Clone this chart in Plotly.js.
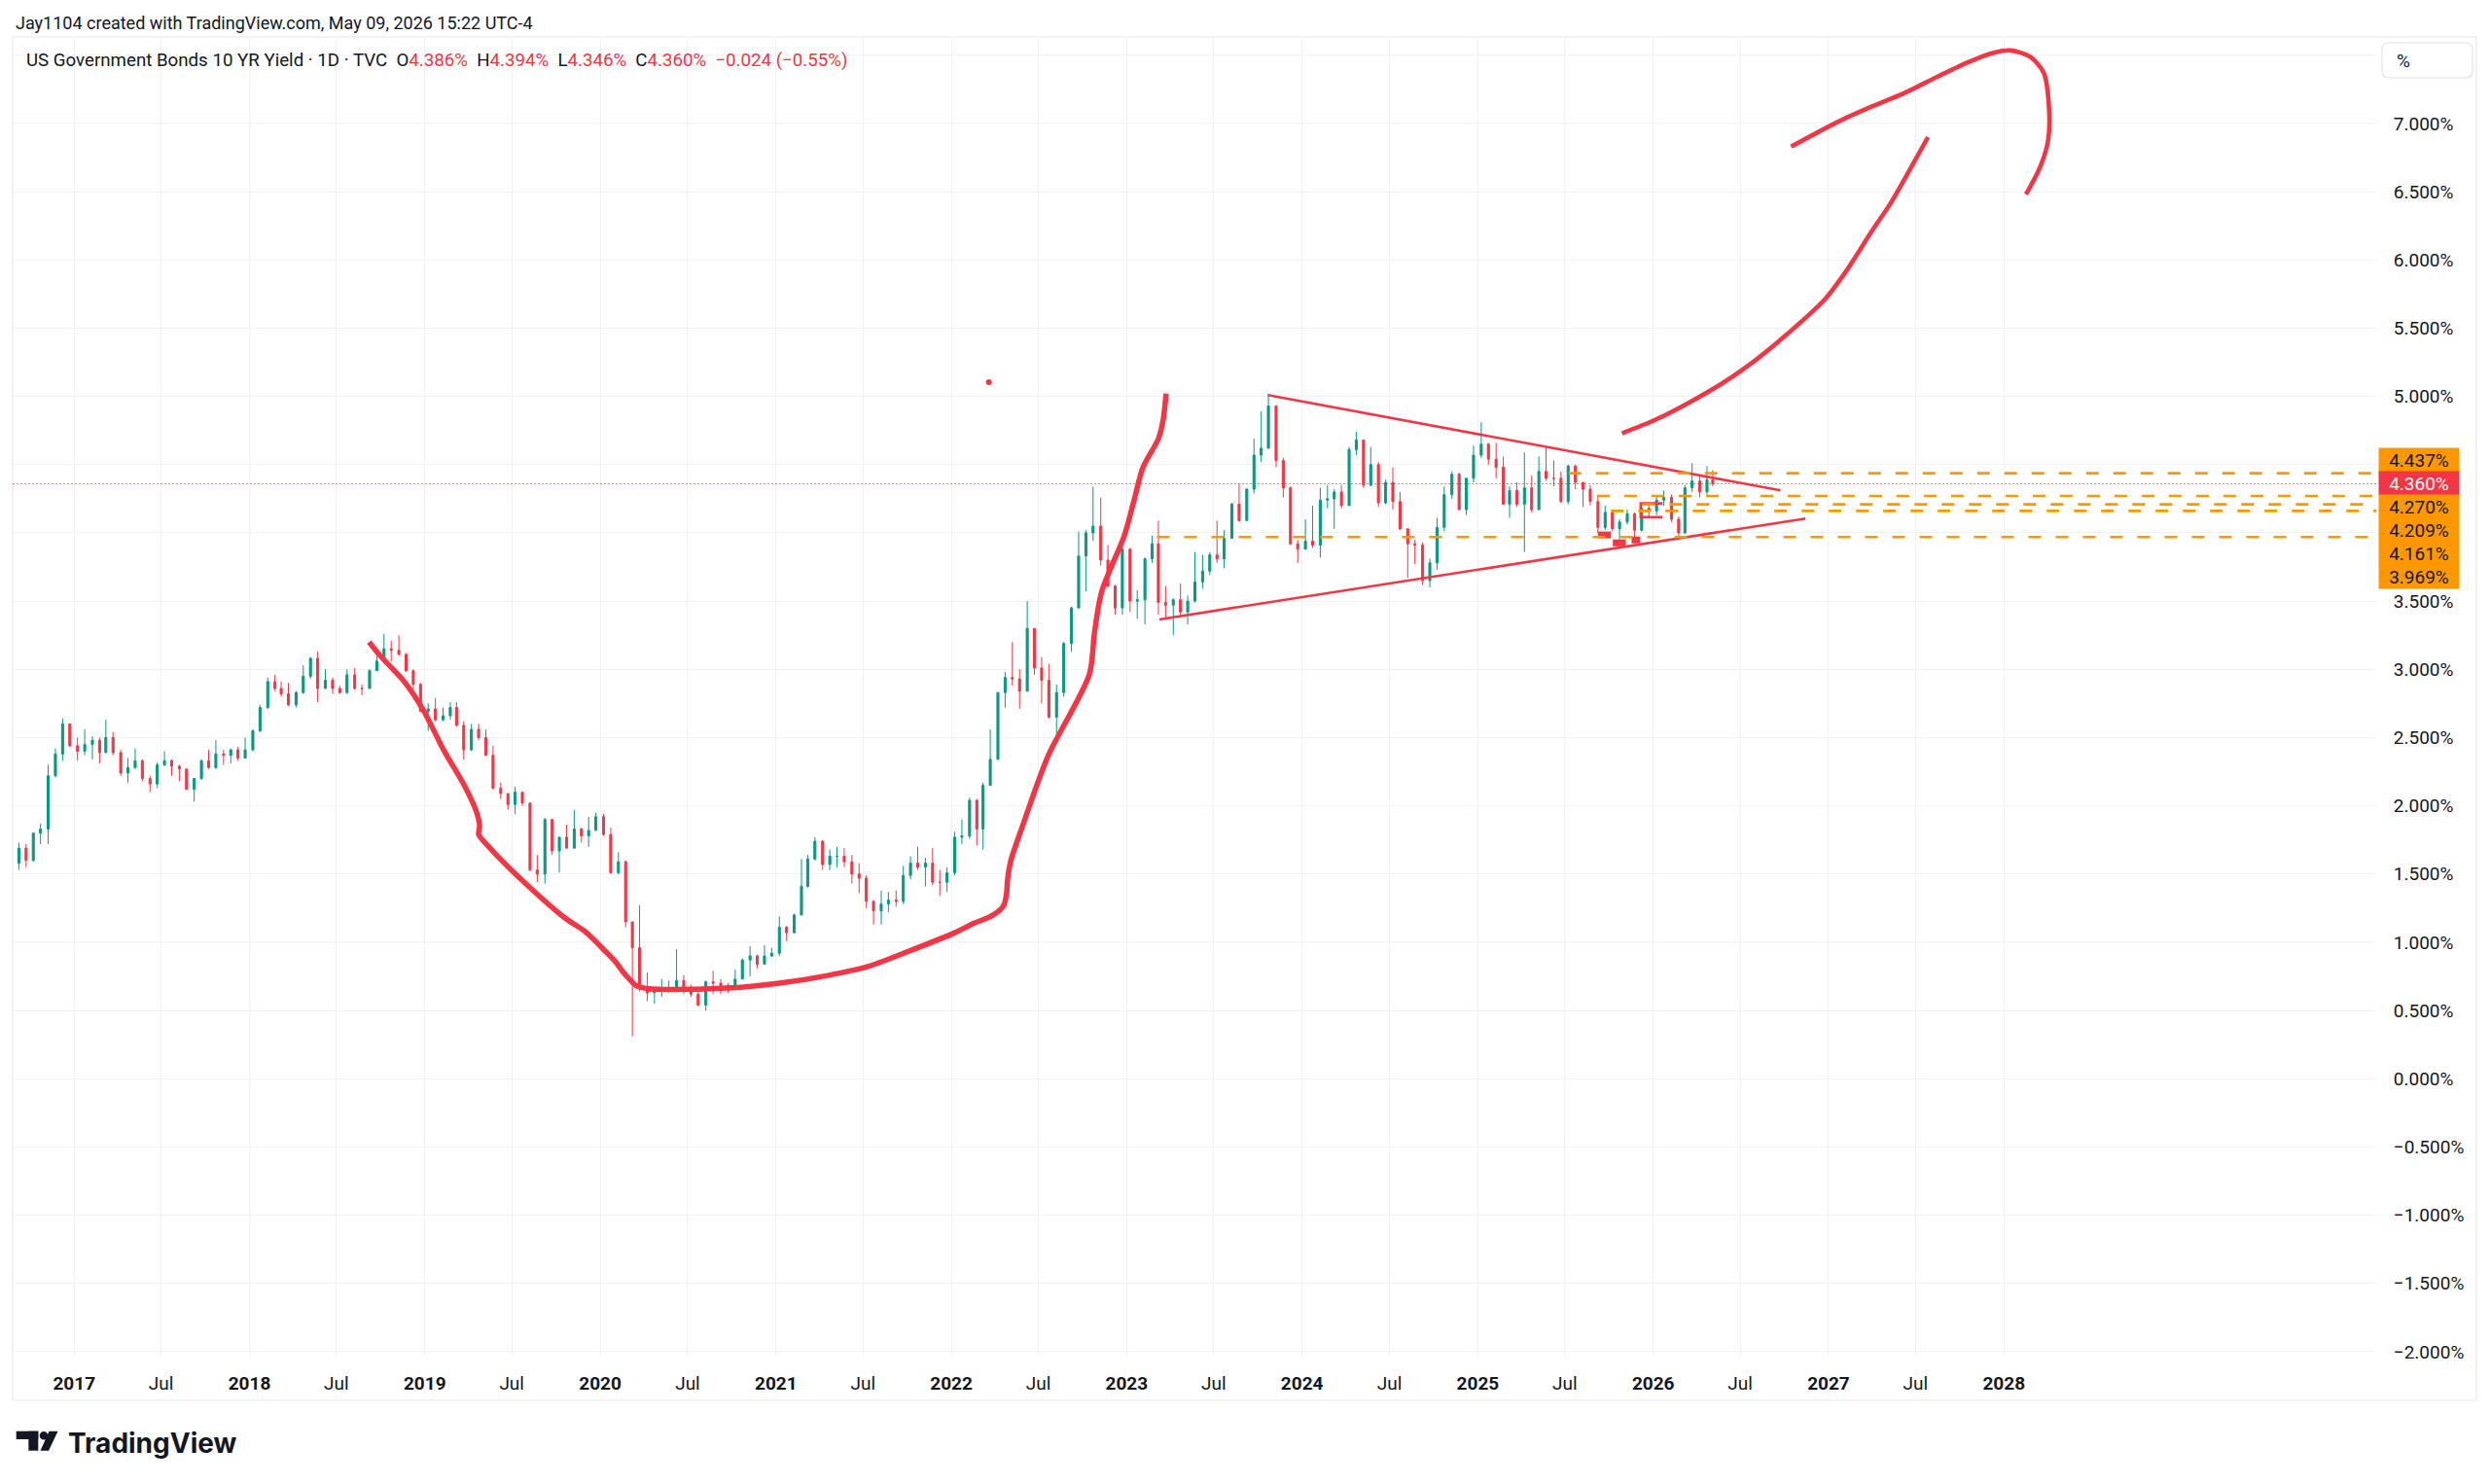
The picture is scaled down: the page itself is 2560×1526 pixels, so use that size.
<!DOCTYPE html>
<html><head><meta charset="utf-8">
<script src="https://cdn.plot.ly/plotly-3.0.1.min.js"></script>
<style>html,body{margin:0;padding:0;background:#fff;}#chart{width:2560px;height:1526px;}</style>
</head><body><div id="chart"></div>
<script>
// ---------- DATA (semi-monthly OHLC of US10Y) ----------
const open = [
 1.58,1.69,1.60,1.80,1.83,2.22,2.38,2.60,
 2.44,2.40,2.45,2.48,2.39,2.50,2.39,2.24,2.28,2.33,2.20,2.16,2.30,2.33,2.29,2.27,2.12,2.20,2.33,2.28,2.38,2.37,2.41,2.35,
 2.41,2.55,2.72,2.91,2.86,2.82,2.74,2.83,2.95,3.08,2.86,2.92,2.86,2.83,2.96,2.86,2.86,2.99,3.06,3.15,3.14,3.11,2.99,2.89,
 2.69,2.71,2.63,2.66,2.72,2.59,2.41,2.56,2.50,2.37,2.13,2.09,2.01,2.10,2.02,1.53,1.50,1.90,1.67,1.77,1.69,1.83,1.78,1.82,
 1.92,1.79,1.51,1.59,1.15,0.96,0.67,0.63,0.64,0.64,0.65,0.72,0.66,0.62,0.54,0.71,0.70,0.68,0.68,0.73,0.87,0.90,0.84,0.90,
 0.92,1.11,1.07,1.20,1.41,1.61,1.74,1.57,1.63,1.63,1.59,1.50,1.47,1.30,1.23,1.28,1.31,1.30,1.49,1.58,1.55,1.58,1.44,1.44,
 1.51,1.77,1.78,2.04,1.83,2.15,2.34,2.83,2.94,2.93,2.84,3.30,3.01,2.92,2.65,2.83,3.19,3.45,3.83,4.00,4.05,3.80,3.61,3.45,
 3.88,3.50,3.51,3.81,3.92,3.49,3.47,3.51,3.42,3.50,3.64,3.72,3.84,3.81,3.96,4.21,4.09,4.32,4.57,4.62,4.93,4.53,4.33,3.92,
 3.88,3.94,3.91,4.24,4.25,4.30,4.20,4.61,4.68,4.35,4.50,4.22,4.37,4.23,4.03,3.92,3.91,3.65,3.78,4.04,4.28,4.43,4.17,4.40,
 4.57,4.65,4.54,4.48,4.21,4.31,4.21,4.33,4.17,4.45,4.40,4.40,4.23,4.49,4.37,4.32,4.23,4.04,4.15,4.03,4.08,4.14,4.02,4.18,
 4.16,4.24,4.26,4.10,4.00,4.33,4.38,4.30,4.39];
const high = [
 1.73,1.72,1.80,1.87,2.30,2.42,2.64,2.60,
 2.50,2.56,2.51,2.50,2.63,2.54,2.41,2.35,2.42,2.34,2.22,2.32,2.40,2.34,2.30,2.27,2.20,2.34,2.41,2.48,2.41,2.42,2.43,2.50,
 2.56,2.74,2.94,2.96,2.91,2.90,2.84,3.03,3.09,3.13,3.00,2.94,2.88,3.00,3.01,2.89,3.00,3.11,3.26,3.21,3.25,3.12,3.00,2.90,
 2.75,2.79,2.72,2.76,2.76,2.62,2.60,2.60,2.56,2.44,2.17,2.09,2.14,2.10,2.02,1.64,1.91,1.90,1.77,1.86,1.97,1.84,1.92,1.95,
 1.94,1.84,1.66,1.60,1.15,1.27,0.78,0.67,0.73,0.72,0.95,0.76,0.69,0.64,0.72,0.79,0.73,0.70,0.80,0.88,0.97,0.91,0.98,0.96,
 1.19,1.12,1.21,1.61,1.64,1.77,1.75,1.68,1.70,1.69,1.64,1.58,1.49,1.31,1.38,1.37,1.38,1.56,1.63,1.70,1.62,1.69,1.53,1.55,
 1.81,1.90,2.06,2.05,2.17,2.56,2.83,2.98,3.20,3.00,3.50,3.30,3.09,3.04,2.89,3.20,3.46,4.01,4.02,4.34,4.26,3.91,3.62,3.90,
 3.89,3.58,3.82,3.98,4.09,3.61,3.52,3.63,3.54,3.86,3.84,3.86,4.09,4.02,4.22,4.36,4.33,4.69,4.89,5.02,4.93,4.55,4.34,3.95,
 4.10,4.20,4.33,4.35,4.32,4.35,4.63,4.74,4.68,4.63,4.52,4.39,4.48,4.30,4.03,3.95,3.93,3.81,4.11,4.34,4.45,4.44,4.40,4.64,
 4.81,4.66,4.66,4.56,4.34,4.37,4.59,4.42,4.56,4.63,4.53,4.45,4.50,4.50,4.37,4.35,4.28,4.20,4.17,4.10,4.17,4.15,4.22,4.21,
 4.27,4.31,4.28,4.12,4.35,4.51,4.42,4.49,4.46];
const low = [
 1.53,1.55,1.59,1.72,1.72,2.21,2.33,2.43,
 2.33,2.37,2.34,2.31,2.39,2.37,2.22,2.17,2.27,2.18,2.10,2.13,2.29,2.22,2.18,2.12,2.03,2.19,2.27,2.27,2.30,2.31,2.33,2.35,
 2.40,2.54,2.71,2.84,2.80,2.73,2.72,2.82,2.93,2.76,2.86,2.82,2.82,2.82,2.85,2.81,2.86,2.99,3.06,3.06,3.10,2.98,2.82,2.69,
 2.55,2.62,2.62,2.63,2.58,2.34,2.40,2.48,2.37,2.12,2.05,1.97,1.94,2.00,1.52,1.44,1.43,1.64,1.51,1.69,1.69,1.73,1.70,1.82,
 1.78,1.50,1.50,1.11,0.31,0.64,0.57,0.55,0.60,0.63,0.65,0.62,0.60,0.53,0.50,0.62,0.62,0.63,0.67,0.73,0.75,0.81,0.84,0.89,
 0.90,1.01,1.07,1.20,1.40,1.60,1.53,1.53,1.55,1.55,1.43,1.36,1.25,1.13,1.13,1.22,1.26,1.28,1.46,1.53,1.41,1.42,1.34,1.37,
 1.49,1.72,1.76,1.71,1.68,2.15,2.34,2.72,2.88,2.71,2.84,2.96,2.75,2.64,2.52,2.80,3.13,3.45,3.57,3.94,3.76,3.60,3.40,3.40,
 3.42,3.37,3.33,3.78,3.40,3.37,3.25,3.38,3.33,3.49,3.59,3.69,3.78,3.74,3.96,4.08,4.09,4.29,4.52,4.62,4.48,4.26,3.91,3.78,
 3.88,3.89,3.82,4.18,4.03,4.18,4.20,4.57,4.33,4.34,4.19,4.21,4.17,4.02,3.67,3.77,3.62,3.60,3.73,4.01,4.25,4.17,4.13,4.37,
 4.55,4.50,4.40,4.21,4.11,4.19,3.86,4.15,4.17,4.38,4.34,4.22,4.21,4.32,4.19,4.20,4.00,4.02,4.01,3.94,4.06,3.95,4.01,4.11,
 4.13,4.20,4.08,3.95,3.99,4.30,4.26,4.28,4.34];
const close = [
 1.69,1.60,1.80,1.83,2.22,2.38,2.60,2.44,
 2.40,2.45,2.48,2.39,2.50,2.39,2.24,2.28,2.33,2.20,2.16,2.30,2.33,2.29,2.27,2.12,2.20,2.33,2.28,2.38,2.37,2.41,2.35,2.41,
 2.55,2.72,2.91,2.86,2.82,2.74,2.83,2.95,3.08,2.86,2.92,2.86,2.83,2.96,2.86,2.86,2.99,3.06,3.15,3.14,3.11,2.99,2.89,2.69,
 2.71,2.63,2.66,2.72,2.59,2.41,2.56,2.50,2.37,2.13,2.09,2.01,2.10,2.02,1.53,1.50,1.90,1.67,1.77,1.69,1.83,1.78,1.82,1.92,
 1.79,1.51,1.59,1.15,0.96,0.67,0.63,0.64,0.64,0.65,0.72,0.66,0.62,0.54,0.71,0.70,0.68,0.68,0.73,0.87,0.90,0.84,0.90,0.92,
 1.11,1.07,1.20,1.41,1.61,1.74,1.57,1.63,1.63,1.59,1.50,1.47,1.30,1.23,1.28,1.31,1.30,1.49,1.58,1.55,1.58,1.44,1.44,1.51,
 1.77,1.78,2.04,1.83,2.15,2.34,2.83,2.94,2.93,2.84,3.30,3.01,2.92,2.65,2.83,3.19,3.45,3.83,4.00,4.05,3.80,3.61,3.45,3.88,
 3.50,3.51,3.81,3.92,3.49,3.47,3.51,3.42,3.50,3.64,3.72,3.84,3.81,3.96,4.21,4.09,4.32,4.57,4.62,4.93,4.53,4.33,3.92,3.88,
 3.94,3.91,4.24,4.25,4.30,4.20,4.61,4.68,4.35,4.50,4.22,4.37,4.23,4.03,3.92,3.91,3.65,3.78,4.04,4.28,4.43,4.17,4.40,4.57,
 4.65,4.54,4.48,4.21,4.31,4.21,4.33,4.17,4.45,4.40,4.40,4.23,4.49,4.37,4.32,4.23,4.04,4.15,4.03,4.08,4.14,4.02,4.18,4.16,
 4.24,4.26,4.10,4.00,4.33,4.38,4.30,4.39,4.36];

// candle dates: two per month (mid of each half), Sep 2016 .. May 2026
const firstMonth = [2016, 9], lastMonth = [2026, 4], finalBarDate = '2026-05-05';
const dates = [];
for (let y = firstMonth[0], m = firstMonth[1]; y < lastMonth[0] || (y === lastMonth[0] && m <= lastMonth[1]);) {
  const mm = String(m).padStart(2, '0');
  dates.push(`${y}-${mm}-08`, `${y}-${mm}-23`);
  m++; if (m > 12) { m = 1; y++; }
}
dates.push(finalBarDate);

// axis ticks
const xTickVals = ['2017-01-01','2017-07-01','2018-01-01','2018-07-01','2019-01-01','2019-07-01','2020-01-01','2020-07-01',
 '2021-01-01','2021-07-01','2022-01-01','2022-07-01','2023-01-01','2023-07-01','2024-01-01','2024-07-01','2025-01-01',
 '2025-07-01','2026-01-01','2026-07-01','2027-01-01','2027-07-01','2028-01-01'];
const xTickText = ['2017','Jul','2018','Jul','2019','Jul','2020','Jul','2021','Jul','2022','Jul','2023','Jul','2024','Jul',
 '2025','Jul','2026','Jul','2027','Jul','2028'];
const yTickVals = [-2,-1.5,-1,-0.5,0,0.5,1,1.5,2,2.5,3,3.5,4,4.5,5,5.5,6,6.5,7,7.5];
const yHiddenTicks = [4, 4.5, 7.5];

// legend / last bar
const seriesName = 'US Government Bonds 10 YR Yield · 1D · TVC';
const ohlcKeys = ['O','H','L','C'];
const lastOHLC = [4.386, 4.394, 4.346, 4.360];
const lastChange = [-0.024, -0.55];
const lastPrice = 4.360;

// horizontal levels (orange dashed) with start dates
const levelValues = [4.437, 4.270, 4.209, 4.161, 3.969];
const levelStarts = ['2025-07-09', '2025-09-06', '2025-12-09', '2025-10-05', '2023-03-05'];

// triangle trend lines
const upperTrendX = ['2023-10-22', '2026-09-23'], upperTrendY = [5.01, 4.311];
const lowerTrendX = ['2023-03-10', '2026-11-14'], lowerTrendY = [3.366, 4.105];

// hand-drawn curves
const bowlX = ['2018-09-07','2018-09-30','2018-11-19','2018-12-29','2019-02-09','2019-03-24','2019-04-18','2019-04-25',
 '2019-04-23','2019-05-14','2019-07-27','2019-10-19','2019-11-30','2020-01-13','2020-02-02','2020-02-16','2020-03-03',
 '2020-03-17','2020-04-11','2020-06-20','2020-10-01','2021-01-08','2021-04-16','2021-07-09','2021-10-01','2022-01-08',
 '2022-02-11','2022-03-29','2022-04-20','2022-04-26','2022-04-28','2022-05-05','2022-05-28','2022-07-22','2022-10-15',
 '2022-10-26','2022-11-10','2022-12-27','2023-01-15','2023-02-04','2023-03-08','2023-03-18','2023-03-24'];
const bowlY = [3.20,3.10,2.91,2.70,2.41,2.15,1.96,1.85,1.79,1.70,1.44,1.18,1.08,0.93,0.857,0.79,0.726,0.68,0.66,0.655,0.666,
 0.70,0.755,0.82,0.93,1.07,1.13,1.20,1.27,1.36,1.46,1.60,1.84,2.37,2.96,3.27,3.57,3.98,4.22,4.48,4.69,4.83,5.02];
const arrowX = ['2025-10-28','2026-01-06','2026-03-14','2026-05-22','2026-07-31','2026-10-08','2026-12-24','2027-02-09',
 '2027-03-30','2027-05-11','2027-06-30','2027-07-27'];
const arrowY = [4.73,4.83,4.95,5.09,5.26,5.46,5.71,5.93,6.20,6.42,6.73,6.90];
const hookX = ['2026-10-15','2027-01-19','2027-03-29','2027-06-06','2027-08-14','2027-10-19','2027-12-13','2028-01-15',
 '2028-02-24','2028-03-24','2028-04-04','2028-04-02','2028-03-17','2028-02-16'];
const hookY = [6.83,7.01,7.12,7.22,7.34,7.45,7.52,7.535,7.49,7.37,7.11,6.875,6.685,6.48];
const bracketX = ['2026-01-20','2025-12-06','2025-12-06','2026-01-20'];
const bracketY = [4.216,4.216,4.116,4.116];
const markA_X = ['2025-09-08','2025-10-05'], markA_Y = [3.985,3.985];
const markB_X = ['2025-10-09','2025-11-05'], markB_Y = [3.927,3.927];
const markC_X = ['2025-11-17','2025-12-05'], markC_Y = [3.948,3.948];
const dotX = ['2022-03-20'], dotY = [5.105];

// ---------- LAYOUT HELPERS ----------
const PL = 13, PR = 2443, PT = 38, PB = 1395;
const px = x => (x - PL) / (PR - PL);
const py = y => (PB - y) / (PB - PT);
const RED = '#f23645', GREEN = '#089981', ORANGE = '#ff9800', INK = '#131722';
const FONT = 'Roboto, "Liberation Sans", sans-serif';
const xStart = '2016-08-26', xEnd = '2030-02-14';

const traces = [];
traces.push({type:'candlestick', x:dates, open, high, low, close,
  increasing:{line:{color:GREEN, width:1}, fillcolor:GREEN},
  decreasing:{line:{color:RED, width:1}, fillcolor:RED},
  whiskerwidth:0, hoverinfo:'skip'});
const line = (x, y, w, shape) => ({type:'scatter', mode:'lines', x, y, hoverinfo:'skip',
  line:{color:RED, width:w, shape:shape||'linear', smoothing:0.8}});
traces.push(line(upperTrendX, upperTrendY, 2.6));
traces.push(line(lowerTrendX, lowerTrendY, 2.6));
traces.push(line(bowlX, bowlY, 5.5, 'spline'));
traces.push(line(arrowX, arrowY, 4.6, 'spline'));
traces.push(line(hookX, hookY, 4.6, 'spline'));
traces.push(line(bracketX, bracketY, 2.6));
traces.push(line(markA_X, markA_Y, 7));
traces.push(line(markB_X, markB_Y, 7));
traces.push(line(markC_X, markC_Y, 7));
traces.push({type:'scatter', mode:'markers', x:dotX, y:dotY, hoverinfo:'skip', marker:{color:RED, size:6}});

const shapes = [];
// frame
shapes.push({type:'rect', xref:'paper', yref:'paper', x0:px(13), x1:px(2546), y0:py(1440), y1:py(38),
  line:{color:'#e6e8ee', width:1.2}, fillcolor:'rgba(0,0,0,0)', layer:'below'});
// last price dotted line
shapes.push({type:'line', xref:'paper', yref:'y', x0:0, x1:1, y0:lastPrice, y1:lastPrice,
  line:{color:'rgba(242,54,69,0.7)', width:1, dash:'2px,2px'}});
// orange levels
levelValues.forEach((v, i) => shapes.push({type:'line', xref:'x', yref:'y', x0:levelStarts[i], x1:xEnd, y0:v, y1:v,
  line:{color:ORANGE, width:2.6, dash:'13px,15px'}}));
// "%" rounded box
function rr(x0, y0, x1, y1, r) {
  const P = (x, y) => px(x) + ',' + py(y);
  return `M ${P(x0+r,y0)} L ${P(x1-r,y0)} Q ${P(x1,y0)} ${P(x1,y0+r)} L ${P(x1,y1-r)} Q ${P(x1,y1)} ${P(x1-r,y1)} ` +
         `L ${P(x0+r,y1)} Q ${P(x0,y1)} ${P(x0,y1-r)} L ${P(x0,y0+r)} Q ${P(x0,y0)} ${P(x0+r,y0)} Z`;
}
shapes.push({type:'path', xref:'paper', yref:'paper', path:rr(2449,44,2542,80,7), line:{color:'#e0e3eb', width:1.2}, fillcolor:'#fff'});
// TradingView logo
const P2 = (x, y) => px(x) + ',' + py(y);
shapes.push({type:'rect', xref:'paper', yref:'paper', x0:px(16.7), x1:px(39.3), y0:py(1480), y1:py(1471.7), fillcolor:INK, line:{width:0}});
shapes.push({type:'rect', xref:'paper', yref:'paper', x0:px(29.3), x1:px(39.3), y0:py(1491.7), y1:py(1471.7), fillcolor:INK, line:{width:0}});
shapes.push({type:'circle', xref:'paper', yref:'paper', x0:px(40.7), x1:px(49.3), y0:py(1480.6), y1:py(1472), fillcolor:INK, line:{width:0}});
shapes.push({type:'path', xref:'paper', yref:'paper', path:`M ${P2(50.5,1471.7)} L ${P2(59.5,1471.7)} L ${P2(50,1491.7)} L ${P2(41.5,1491.7)} Z`, fillcolor:INK, line:{width:0}});

const annotations = [];
const ann = (o) => annotations.push(Object.assign({xref:'paper', yref:'paper', showarrow:false, xanchor:'left', yanchor:'middle'}, o));
ann({x:px(14), y:py(23), text:'Jay1104 created with TradingView.com, May 09, 2026 15:22 UTC-4', font:{family:FONT, size:18, color:INK}});
const red = s => `<span style="color:${RED}">${s}</span>`;
const sp = '\u00a0\u00a0';
const fmtSigned = (v, d) => (v < 0 ? '\u2212' : '+') + Math.abs(v).toFixed(d);
const legendText = seriesName + sp + ohlcKeys.map((k, i) => k + red(lastOHLC[i].toFixed(3) + '%')).join(sp) + sp +
  red(fmtSigned(lastChange[0], 3) + ' (' + fmtSigned(lastChange[1], 2) + '%)');
ann({x:px(25), y:py(62), text:legendText, font:{family:FONT, size:18.7, color:INK}});
ann({x:px(2462), y:py(62), text:'%', font:{family:FONT, size:19, color:INK}});
ann({x:px(68), y:py(1484), text:'<b>TradingView</b>', font:{family:'Inter, Roboto, sans-serif', size:28, color:INK}});

// price labels at right, stacked
const boxVals = [levelValues[0], lastPrice, levelValues[1], levelValues[2], levelValues[3], levelValues[4]];
boxVals.forEach((v, i) => {
  const isLast = i === 1;
  ann({x:px(2445), y:py(472.7 + i * 24), width:82, height:24, borderpad:0, align:'center',
    bgcolor: isLast ? RED : ORANGE, text: v.toFixed(3) + '%',
    font:{family:FONT, size:19, color: isLast ? '#ffffff' : INK}});
});

const yTickText = yTickVals.map(v => yHiddenTicks.includes(v) ? '' : (v < 0 ? '\u2212' : '') + Math.abs(v).toFixed(3) + '%');
const layout = {
  width:2560, height:1526, margin:{l:PL, r:2560-PR, t:PT, b:1526-PB, pad:0},
  paper_bgcolor:'#ffffff', plot_bgcolor:'#ffffff', showlegend:false,
  font:{family:FONT, size:19, color:INK},
  boxgap:0.5,
  xaxis:{type:'date', range:[xStart, xEnd], tickvals:xTickVals,
    ticktext:xTickText.map(t => t === 'Jul' ? t : '<b>' + t + '</b>'),
    showgrid:true, gridcolor:'#f1f2f5', gridwidth:1, zeroline:false, showline:false,
    ticks:'outside', ticklen:10, tickcolor:'rgba(0,0,0,0)', tickfont:{family:FONT, size:19, color:INK},
    rangeslider:{visible:false}, fixedrange:true},
  yaxis:{side:'right', range:[-2.036, 7.634], tickvals:yTickVals, ticktext:yTickText,
    showgrid:true, gridcolor:'#f1f2f5', gridwidth:1, zeroline:false, showline:false,
    ticks:'outside', ticklen:13, tickcolor:'rgba(0,0,0,0)', tickfont:{family:FONT, size:19, color:INK}, fixedrange:true},
  shapes, annotations
};
Plotly.newPlot('chart', traces, layout, {displayModeBar:false, staticPlot:true});
</script></body></html>
